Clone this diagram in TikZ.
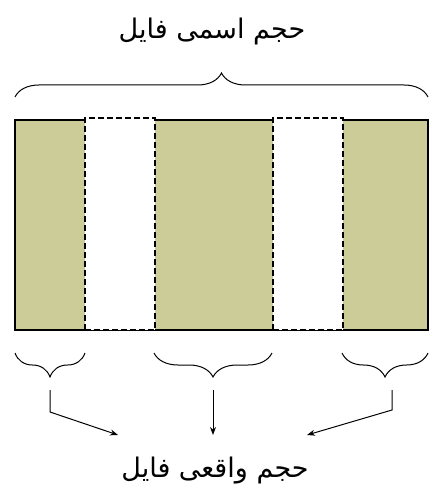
\documentclass[tikz,border=0pt]{standalone}
\usepackage{fontspec}
\usetikzlibrary{decorations.pathreplacing,arrows.meta}
\newfontfamily\arabicfont[Script=Arabic]{DejaVu Sans}
\TeXXeTstate=1
\definecolor{blockgreen}{RGB}{204,204,153}
\tikzset{
  fullblock/.style={draw=black, fill=blockgreen, line width=1.4pt, minimum height=210pt, anchor=north west, inner sep=0pt, outer sep=0pt},
  holeblock/.style={draw=black, fill=white, dash pattern=on 6pt off 3pt, line width=1.5pt, minimum height=212pt, anchor=north west, inner sep=0pt, outer sep=0pt},
  bracestyle/.style={decorate, decoration={brace, amplitude=#1}, line width=1pt},
  pointer/.style={-{Stealth[length=8pt, width=6pt]}, line width=1pt},
  caption/.style={font=\arabicfont\fontsize{27pt}{30pt}\selectfont, inner sep=0pt}
}
\begin{document}
\begin{tikzpicture}[x=1pt, y=-1pt]
  \useasboundingbox (0,0) rectangle (430,494);

  % title above the file
  \node[caption] (nominal) at (212,31) {\beginR حجم اسمی فایل\endR};

  % file body: stored extents and unallocated gaps
  \node[fullblock, minimum width=413pt] (file) at (15,120) {};
  \node[holeblock, minimum width=70pt] (gap1) at (85,118) {};
  \node[holeblock, minimum width=70pt] (gap2) at (273,118) {};

  % brace over the whole nominal size
  \coordinate (topL) at (15,97);
  \coordinate (topR) at (428,97);
  \draw[bracestyle=24pt] (topL) -- (topR);

  % braces under each stored extent
  \coordinate (b1L) at (15,353);
  \coordinate (b1R) at (85,353);
  \coordinate (b2L) at (154,353);
  \coordinate (b2R) at (272,353);
  \coordinate (b3L) at (342,353);
  \coordinate (b3R) at (428,353);
  \draw[bracestyle=24pt] (b1R) -- (b1L);
  \draw[bracestyle=24pt] (b2R) -- (b2L);
  \draw[bracestyle=24pt] (b3R) -- (b3L);

  % caption for the real size
  \node[caption] (actual) at (215,471) {\beginR حجم واقعی فایل\endR};

  % arrows gathering the extents into the real size
  \coordinate (s1) at (50,390);
  \coordinate (k1) at (50,412);
  \coordinate (e1) at (118,435);
  \coordinate (s2) at (213,390);
  \coordinate (e2) at (213,435);
  \coordinate (s3) at (392,390);
  \coordinate (k3) at (392,410);
  \coordinate (e3) at (307,435);
  \draw[pointer] (s1) -- (k1) -- (e1);
  \draw[pointer] (s2) -- (e2);
  \draw[pointer] (s3) -- (k3) -- (e3);
\end{tikzpicture}
\end{document}
